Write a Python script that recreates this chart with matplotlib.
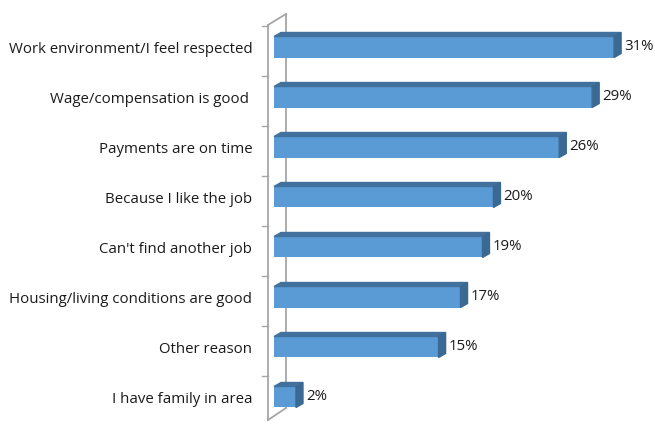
import matplotlib.pyplot as plt
from matplotlib.patches import Polygon

labels = ["Work environment/I feel respected", "Wage/compensation is good ",
          "Payments are on time", "Because I like the job",
          "Can't find another job", "Housing/living conditions are good",
          "Other reason", "I have family in area"]
values = [31, 29, 26, 20, 19, 17, 15, 2]
value_text = ["31%", "29%", "26%", "20%", "19%", "17%", "15%", "2%"]

front = "#5b9bd5"
top = "#41719c"
side = "#3a6a94"
wall = "#a6a6a6"

fig = plt.figure(figsize=(6.55, 4.24), dpi=100)
ax = fig.add_axes([0, 0, 1, 1])
ax.set_xlim(-24.98, 34.73)
ax.set_ylim(7.54, -0.94)
ax.axis("off")

h = 0.42
dx, dy = 0.64, 0.08

# wall
fx, bx = -0.55, 1.09
ax.plot([fx, fx], [-0.44, 7.46], color=wall, lw=1.3)
ax.plot([bx, bx], [-0.66, 7.22], color=wall, lw=1.3)
ax.plot([fx, bx], [-0.44, -0.66], color=wall, lw=1.3)
ax.plot([fx, bx], [7.46, 7.22], color=wall, lw=1.3)
for i in range(8):
    ax.plot([fx - 0.55, fx], [i - 0.42, i - 0.42], color=wall, lw=1.0)

ax.barh(range(len(values)), values, height=h, color=front, zorder=3)
for i, v in enumerate(values):
    y0, y1 = i - h / 2, i + h / 2
    ax.add_patch(Polygon([(0, y0), (v, y0), (v + dx, y0 - dy), (dx, y0 - dy)],
                         closed=True, color=top, zorder=3))
    ax.add_patch(Polygon([(v, y0), (v + dx, y0 - dy), (v + dx, y1 - dy), (v, y1)],
                         closed=True, color=side, zorder=3))
    ax.text(v + dx + 0.3, i, value_text[i], va="center", ha="left",
            fontsize=10.8, color="#1a1a1a", family="Open Sans")
    ax.text(-1.98, i + 0.05, labels[i], va="center", ha="right",
            fontsize=10.8, color="#1a1a1a", family="Open Sans")

fig.savefig("out.png", dpi=100)
